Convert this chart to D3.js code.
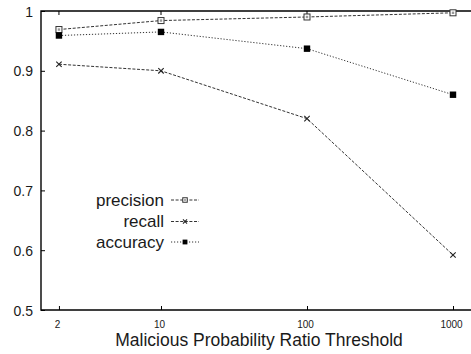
<!DOCTYPE html>
<html>
<head>
<meta charset="utf-8">
<script src="https://cdn.jsdelivr.net/npm/d3@7"></script>
<style>
  body { margin: 0; background: #fff; }
  text { font-family: "Liberation Sans", Arial, sans-serif; fill: #1a1a1a; }
</style>
</head>
<body>
<script>
// data
const thresholds = [2, 10, 100, 1000];
const precision = [0.969, 0.984, 0.990, 0.997];
const recall = [0.911, 0.900, 0.820, 0.592];
const accuracy = [0.959, 0.965, 0.937, 0.860];
const yTicks = [0.5, 0.6, 0.7, 0.8, 0.9, 1];
const seriesNames = ['precision', 'recall', 'accuracy'];

const width = 471;
const height = 354;
const plot = { left: 41, top: 11, bottom: 310 };

const svg = d3.select('body')
    .append('svg')
    .attr('width', width)
    .attr('height', height);

// 10 -> 161, 1000 -> 453
const xScale = d3.scaleLog()
    .domain([10, 1000])
    .range([161, 453]);

const yScale = d3.scaleLinear()
    .domain([0.5, 1])
    .range([plot.bottom, plot.top]);

// frame: left, bottom, top
svg.append('path')
    .attr('d', 'M' + width + ',' + plot.top + 'H' + plot.left + 'V' + plot.bottom + 'H' + width)
    .attr('fill', 'none')
    .attr('stroke', '#000')
    .attr('stroke-width', 1.4);

// y axis, ticks pointing inward
const yAxis = d3.axisLeft(yScale)
    .tickValues(yTicks)
    .tickFormat(d => d === 1 ? '1' : d3.format('.1f')(d))
    .tickSize(-4);

const gy = svg.append('g')
    .attr('transform', 'translate(' + plot.left + ',0)')
    .call(yAxis);
gy.select('.domain').remove();
gy.selectAll('text').attr('font-size', 14).attr('x', -8).attr('dy', '0.36em');

// x axis
const xAxis = d3.axisBottom(xScale)
    .tickValues(thresholds)
    .tickFormat(d3.format('d'))
    .tickSize(-4);

const gx = svg.append('g')
    .attr('transform', 'translate(0,' + plot.bottom + ')')
    .call(xAxis);
gx.select('.domain').remove();
gx.selectAll('text')
    .attr('font-size', 10)
    .attr('y', 17.5)
    .attr('dy', 0)
    .attr('dx', -2);

// top mirror ticks
svg.append('g')
    .selectAll('line')
    .data(thresholds)
    .enter()
    .append('line')
    .attr('x1', d => xScale(d))
    .attr('x2', d => xScale(d))
    .attr('y1', plot.top)
    .attr('y2', plot.top + 4)
    .attr('stroke', '#000');

svg.append('text')
    .attr('x', 259)
    .attr('y', 346)
    .attr('text-anchor', 'middle')
    .attr('font-size', 17.5)
    .text('Malicious Probability Ratio Threshold');

const styles = {
    precision: { dash: '3,1.6', marker: 'openbox' },
    recall: { dash: '3,1.6', marker: 'cross' },
    accuracy: { dash: '1.2,1.8', marker: 'box' }
};
const values = { precision, recall, accuracy };

const line = d3.line()
    .x(d => xScale(d[0]))
    .y(d => yScale(d[1]));

function drawMarker(g, type, x, y, s) {
    if (type === 'openbox') {
        g.append('rect').attr('x', x - 3 * s).attr('y', y - 3 * s).attr('width', 6 * s).attr('height', 6 * s)
            .attr('fill', '#fff').attr('stroke', '#333').attr('stroke-width', 1);
        g.append('rect').attr('x', x - 1.2 * s).attr('y', y - 1.2 * s).attr('width', 2.4 * s).attr('height', 2.4 * s)
            .attr('fill', '#999');
    } else if (type === 'cross') {
        const r = 2.7 * s;
        g.append('path').attr('d', 'M' + (x - r) + ',' + (y - r) + 'L' + (x + r) + ',' + (y + r) +
            'M' + (x - r) + ',' + (y + r) + 'L' + (x + r) + ',' + (y - r))
            .attr('stroke', '#222').attr('stroke-width', 1.1);
    } else {
        g.append('rect').attr('x', x - 3.2 * s).attr('y', y - 3.2 * s).attr('width', 6.4 * s).attr('height', 6.4 * s)
            .attr('fill', '#000');
    }
}

seriesNames.forEach(name => {
    const pts = thresholds.map((t, i) => [t, values[name][i]]);
    const g = svg.append('g');
    g.append('path')
        .datum(pts)
        .attr('d', line)
        .attr('fill', 'none')
        .attr('stroke', '#333')
        .attr('stroke-width', 1)
        .attr('stroke-dasharray', styles[name].dash);
    pts.forEach(p => drawMarker(g, styles[name].marker, xScale(p[0]), yScale(p[1]), 1));
});

// legend
const legendY = [200, 221.5, 242];
seriesNames.forEach((name, i) => {
    const g = svg.append('g');
    const y = legendY[i];
    g.append('text')
        .attr('x', 164)
        .attr('y', y + 5.5)
        .attr('text-anchor', 'end')
        .attr('font-size', 17)
        .text(name);
    g.append('line')
        .attr('x1', 171).attr('x2', 199)
        .attr('y1', y).attr('y2', y)
        .attr('stroke', '#333')
        .attr('stroke-dasharray', styles[name].dash);
    drawMarker(g, styles[name].marker, 185, y, 0.75);
});
</script>
</body>
</html>
